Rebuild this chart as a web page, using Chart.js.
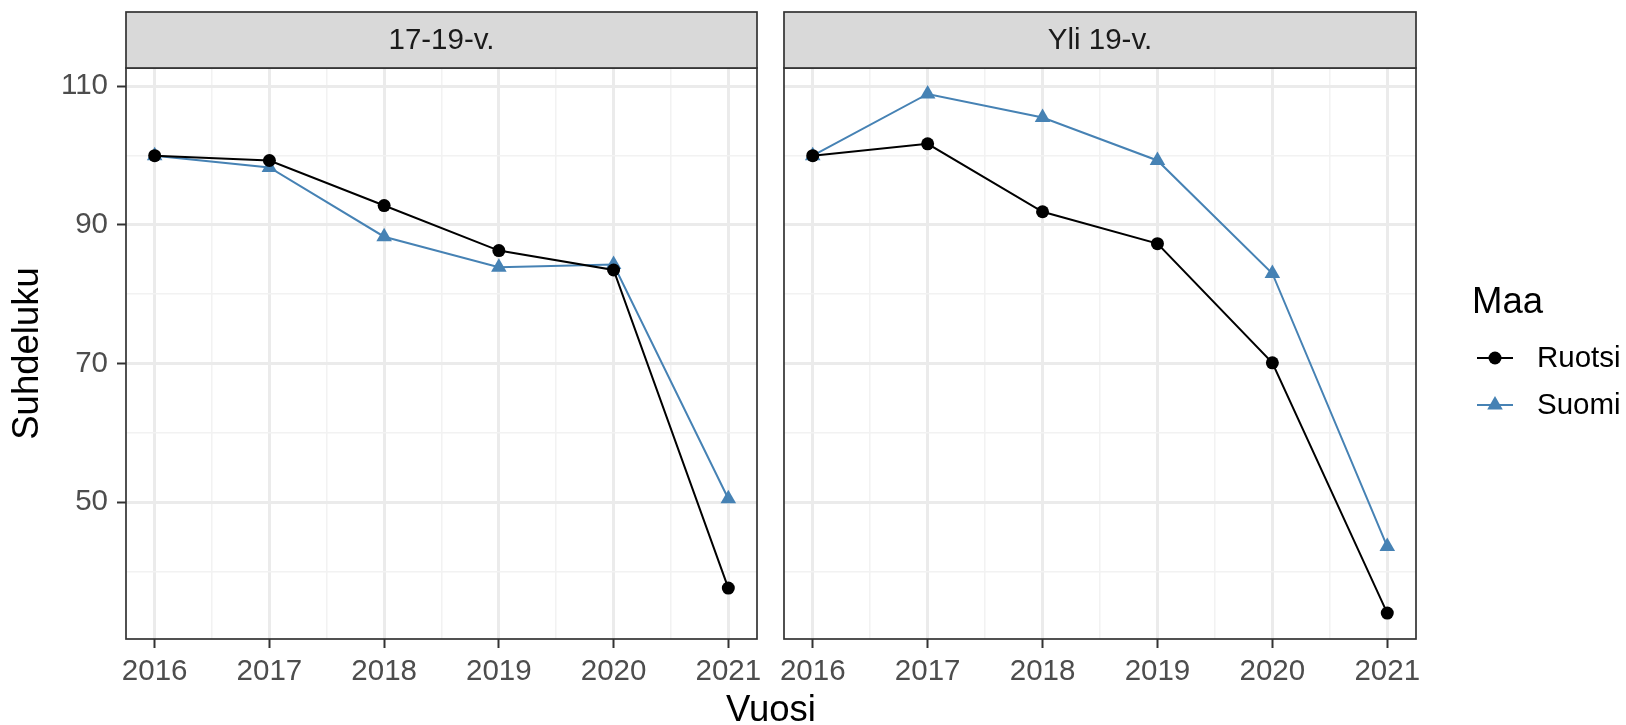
<!DOCTYPE html>
<html>
<head>
<meta charset="utf-8">
<script src="https://cdn.jsdelivr.net/npm/chart.js@4.4.0/dist/chart.umd.min.js"></script>
<style>
html, body { margin: 0; padding: 0; background: #fff; }
#wrap { position: relative; width: 1626px; height: 725px; overflow: hidden; background: #fff; }
#wrap canvas { position: absolute; left: 0; top: 0; }
</style>
</head>
<body>
<div id="wrap">
  <canvas id="chartLeft" width="1626" height="725"></canvas>
  <canvas id="chartRight" width="1626" height="725"></canvas>
</div>
<script>
// vuodet ja arvot (luettu kuvasta)
var years = [2016, 2017, 2018, 2019, 2020, 2021];
var yearMinor = [2016.5, 2017.5, 2018.5, 2019.5, 2020.5];
var ruotsi1719 = [100, 99.3, 92.8, 86.3, 83.5, 37.6];
var suomi1719 = [100, 98.3, 88.3, 83.9, 84.3, 50.5];
var ruotsiYli19 = [100, 101.7, 91.9, 87.3, 70.1, 34.0];
var suomiYli19 = [100, 108.9, 105.5, 99.3, 83.0, 43.6];
var yTicks = [50, 70, 90, 110];
var yMinor = [40, 60, 80, 100];
var panelTitles = ['17-19-v.', 'Yli 19-v.'];
var seriesNames = ['Ruotsi', 'Suomi'];
var legendTitle = 'Maa';
var xTitle = 'Vuosi';
var yTitle = 'Suhdeluku';

var FONT = "'Liberation Sans', Arial, sans-serif";
Chart.defaults.font.family = FONT;

// ggplot-tyylinen 5 % laajennus
var allVals = ruotsi1719.concat(suomi1719, ruotsiYli19, suomiYli19);
var dMin = Math.min.apply(null, allVals);
var dMax = Math.max.apply(null, allVals);
var yMin = dMin - (dMax - dMin) * 0.05;
var yMax = dMax + (dMax - dMin) * 0.05;
var xMin = years[0] - (years[years.length - 1] - years[0]) * 0.05;
var xMax = years[years.length - 1] + (years[years.length - 1] - years[0]) * 0.05;

function toPoints(vals) {
    return years.map(function (y, i) { return { x: y, y: vals[i] }; });
}

function drawTriangle(ctx, x, y, r) {
    ctx.beginPath();
    ctx.moveTo(x, y - r);
    ctx.lineTo(x + r * Math.sin(2 * Math.PI / 3), y - r * Math.cos(2 * Math.PI / 3));
    ctx.lineTo(x + r * Math.sin(4 * Math.PI / 3), y - r * Math.cos(4 * Math.PI / 3));
    ctx.closePath();
    ctx.fill();
}

// paneelin reunat, otsikkonauha, x-otsikko ja selite
var panelDecor = {
    id: 'panelDecor',
    afterDatasetsDraw: function (chart, args, opts) {
        var a = chart.chartArea;
        var ctx = chart.ctx;
        ctx.save();
        ctx.lineWidth = 1.7;
        ctx.strokeStyle = '#333333';
        ctx.strokeRect(a.left, a.top, a.right - a.left, a.bottom - a.top);

        ctx.fillStyle = '#D9D9D9';
        ctx.fillRect(a.left, 12, a.right - a.left, a.top - 12);
        ctx.strokeRect(a.left, 12, a.right - a.left, a.top - 12);
        ctx.fillStyle = '#1A1A1A';
        ctx.font = '29.5px ' + FONT;
        ctx.textAlign = 'center';
        ctx.textBaseline = 'middle';
        ctx.fillText(opts.strip, (a.left + a.right) / 2, (12 + a.top) / 2 + 1);

        if (opts.xTitle) {
            ctx.fillStyle = '#000';
            ctx.font = '36.5px ' + FONT;
            ctx.textBaseline = 'alphabetic';
            ctx.fillText(opts.xTitle, 771, 721);
        }

        if (opts.legend) {
            ctx.fillStyle = '#000';
            ctx.textAlign = 'left';
            ctx.textBaseline = 'alphabetic';
            ctx.font = '36.5px ' + FONT;
            ctx.fillText(legendTitle, 1472, 313);
            var rows = [358, 405];
            var colors = ['#000000', '#4682B4'];
            ctx.font = '29.5px ' + FONT;
            ctx.textBaseline = 'middle';
            for (var i = 0; i < 2; i++) {
                ctx.strokeStyle = colors[i];
                ctx.fillStyle = colors[i];
                ctx.lineWidth = 2;
                ctx.beginPath();
                ctx.moveTo(1477, rows[i]);
                ctx.lineTo(1513, rows[i]);
                ctx.stroke();
                if (i === 0) {
                    ctx.beginPath();
                    ctx.arc(1495, rows[i], 6.5, 0, Math.PI * 2);
                    ctx.fill();
                } else {
                    drawTriangle(ctx, 1495, rows[i], 9);
                }
                ctx.fillStyle = '#000';
                ctx.fillText(seriesNames[i], 1537, rows[i] + 1);
            }
        }
        ctx.restore();
    }
};

function isMinor(v, minors) {
    return minors.some(function (m) { return Math.abs(m - v) < 1e-6; });
}

function makeChart(id, strip, ruotsi, suomi, isLeft) {
    var ctx = document.getElementById(id);
    return new Chart(ctx, {
        type: 'line',
        data: {
            datasets: [{
                label: seriesNames[0],
                data: toPoints(ruotsi),
                borderColor: '#000000',
                backgroundColor: '#000000',
                borderWidth: 2,
                pointStyle: 'circle',
                pointRadius: 6.5,
                pointBorderWidth: 0,
                tension: 0
            },
            {
                label: seriesNames[1],
                data: toPoints(suomi),
                borderColor: '#4682B4',
                backgroundColor: '#4682B4',
                borderWidth: 2,
                pointStyle: 'triangle',
                pointRadius: 9,
                pointBorderWidth: 0,
                tension: 0
            }
            ]
        },
        options: {
            responsive: false,
            animation: false,
            layout: {
                padding: isLeft ? { left: 0, right: 869, top: 68, bottom: 0 } : { left: 784, right: 210, top: 68, bottom: 0 }
            },
            scales: {
                x: {
                    type: 'linear',
                    min: xMin,
                    max: xMax,
                    afterBuildTicks: function (s) {
                        s.ticks = years.concat(yearMinor).sort().map(function (v) { return { value: v }; });
                    },
                    afterFit: function (s) { s.height = 86; },
                    border: { display: false },
                    grid: {
                        color: function (c) { return isMinor(c.tick.value, yearMinor) ? '#F2F2F2' : '#EBEBEB'; },
                        lineWidth: function (c) { return isMinor(c.tick.value, yearMinor) ? 1.5 : 3; },
                        tickColor: function (c) { return isMinor(c.tick.value, yearMinor) ? 'rgba(0,0,0,0)' : '#333333'; },
                        tickWidth: 2,
                        tickLength: 9
                    },
                    ticks: {
                        autoSkip: false,
                        maxRotation: 0,
                        padding: 6,
                        color: '#4D4D4D',
                        font: { size: 29.5 },
                        callback: function (v) { return isMinor(v, yearMinor) ? '' : String(v); }
                    }
                },
                y: {
                    type: 'linear',
                    min: yMin,
                    max: yMax,
                    afterBuildTicks: function (s) {
                        s.ticks = yMinor.concat(yTicks).sort(function (p, q) { return p - q; }).map(function (v) { return { value: v }; });
                    },
                    afterFit: function (s) { s.width = isLeft ? 126 : 0; },
                    border: { display: false },
                    title: {
                        display: isLeft,
                        text: yTitle,
                        color: '#000',
                        font: { size: 36.5 },
                        padding: { top: 6, bottom: 0 }
                    },
                    grid: {
                        color: function (c) { return isMinor(c.tick.value, yMinor) ? '#F2F2F2' : '#EBEBEB'; },
                        lineWidth: function (c) { return isMinor(c.tick.value, yMinor) ? 1.5 : 3; },
                        tickColor: function (c) { return isMinor(c.tick.value, yMinor) ? 'rgba(0,0,0,0)' : '#333333'; },
                        tickWidth: 2,
                        tickLength: 9,
                        drawTicks: isLeft
                    },
                    ticks: {
                        display: isLeft,
                        autoSkip: false,
                        padding: 9,
                        color: '#4D4D4D',
                        font: { size: 29.5 },
                        callback: function (v) { return isMinor(v, yMinor) ? '' : String(v); }
                    }
                }
            },
            plugins: {
                legend: { display: false },
                tooltip: { enabled: false },
                panelDecor: {
                    strip: strip,
                    xTitle: isLeft ? xTitle : null,
                    legend: !isLeft
                }
            }
        },
        plugins: [panelDecor]
    });
}

makeChart('chartLeft', panelTitles[0], ruotsi1719, suomi1719, true);
makeChart('chartRight', panelTitles[1], ruotsiYli19, suomiYli19, false);
</script>
</body>
</html>
